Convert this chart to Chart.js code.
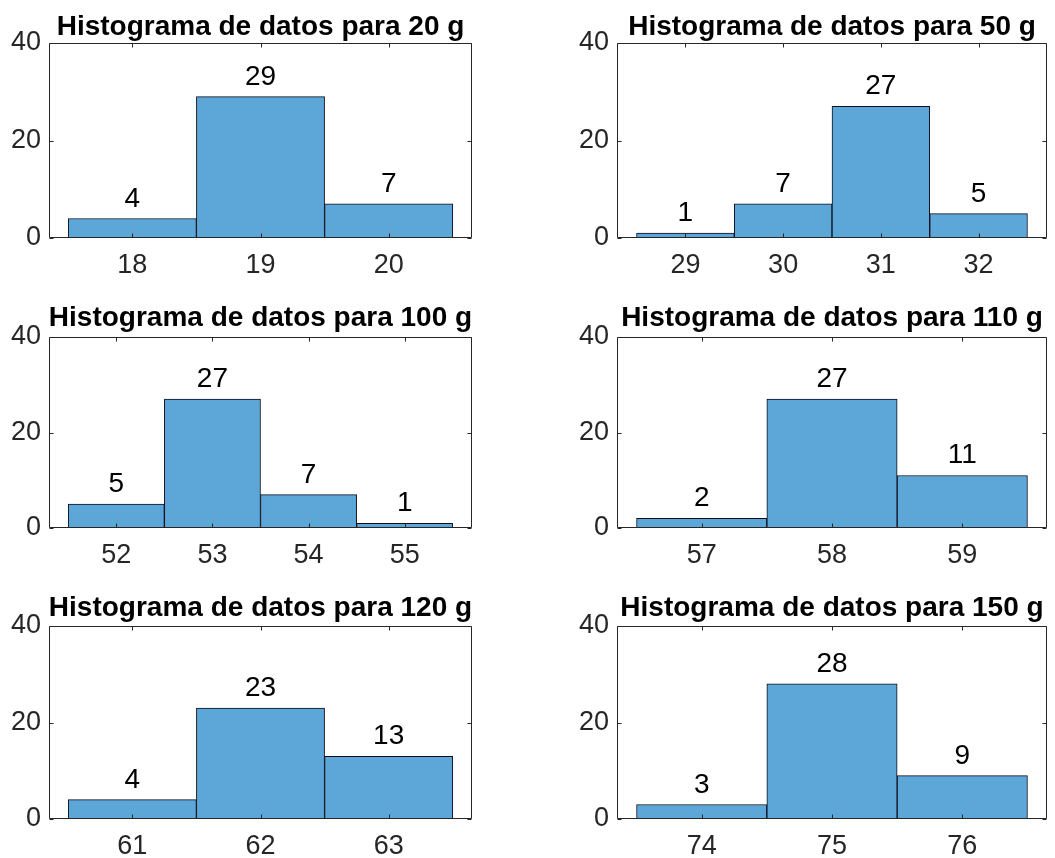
<!DOCTYPE html>
<html>
<head>
<meta charset="utf-8">
<script src="https://cdn.jsdelivr.net/npm/chart.js@4.4.1/dist/chart.umd.min.js"></script>
<style>
  html, body { margin: 0; padding: 0; background: #ffffff; }
  body { width: 1055px; height: 858px; position: relative; overflow: hidden; }
  canvas { position: absolute; }
</style>
</head>
<body>
<canvas id="c0"></canvas>
<canvas id="c1"></canvas>
<canvas id="c2"></canvas>
<canvas id="c3"></canvas>
<canvas id="c4"></canvas>
<canvas id="c5"></canvas>
<script>
// Masses (g) of each measurement set, used in the panel titles
const masses = [20, 50, 100, 110, 120, 150];

// Histogram bins (bin centres) and counts for every mass
const bins20 = [18, 19, 20];
const counts20 = [4, 29, 7];
const bins50 = [29, 30, 31, 32];
const counts50 = [1, 7, 27, 5];
const bins100 = [52, 53, 54, 55];
const counts100 = [5, 27, 7, 1];
const bins110 = [57, 58, 59];
const counts110 = [2, 27, 11];
const bins120 = [61, 62, 63];
const counts120 = [4, 23, 13];
const bins150 = [74, 75, 76];
const counts150 = [3, 28, 9];

// Shared y-axis ticks
const yTicks = [0, 20, 40];

const allBins = [bins20, bins50, bins100, bins110, bins120, bins150];
const allCounts = [counts20, counts50, counts100, counts110, counts120, counts150];

// Styling
const FONT = "'Liberation Sans', Arial, Helvetica, sans-serif";
const BAR_FILL = 'rgb(92,166,216)';
const BAR_EDGE = '#0d0d1a';
const AXIS_COLOR = '#262626';
const TICK_LEN = 4;

// Canvas placement and plot-box edges for the 3x2 grid
const colCanvas = [[0, 500], [520, 535]];
const rowCanvas = [[0, 285], [285, 290], [575, 283]];
const colBox = [[49, 472], [617, 1047]];
const rowBox = [[43, 238], [337, 528], [626, 819]];
const titleGap = [8, 11, 10];

const Y_W = 46;   // reserved width for y tick labels
const X_H = 44;   // reserved height for x tick labels

// Outer box with inward tick marks on all four sides
const boxPlugin = {
  id: 'box',
  afterDatasetsDraw(chart) {
    const { ctx, chartArea: a, scales: { x, y } } = chart;
    const l = Math.round(a.left) + 0.5, r = Math.round(a.right) - 0.5;
    const t = Math.round(a.top) + 0.5, b = Math.round(a.bottom) - 0.5;
    ctx.save();
    ctx.strokeStyle = AXIS_COLOR;
    ctx.lineWidth = 1;
    ctx.beginPath();
    ctx.rect(l, t, r - l, b - t);
    x.ticks.forEach(tk => {
      const px = Math.round(x.getPixelForValue(tk.value)) + 0.5;
      ctx.moveTo(px, b); ctx.lineTo(px, b - TICK_LEN);
      ctx.moveTo(px, t); ctx.lineTo(px, t + TICK_LEN);
    });
    y.ticks.forEach(tk => {
      const py = Math.round(y.getPixelForValue(tk.value)) + 0.5;
      ctx.moveTo(l, py); ctx.lineTo(l + TICK_LEN, py);
      ctx.moveTo(r, py); ctx.lineTo(r - TICK_LEN, py);
    });
    ctx.stroke();
    ctx.restore();
  }
};

// Count written above each bar
const countLabelPlugin = {
  id: 'countLabels',
  afterDatasetsDraw(chart) {
    const { ctx } = chart;
    const meta = chart.getDatasetMeta(0);
    const data = chart.data.datasets[0].data;
    ctx.save();
    ctx.font = '28px ' + FONT;
    ctx.fillStyle = '#000000';
    ctx.textAlign = 'center';
    ctx.textBaseline = 'alphabetic';
    meta.data.forEach((bar, k) => {
      ctx.fillText(String(data[k].y), bar.x, bar.y - 12);
    });
    ctx.restore();
  }
};

// Bold title centred over the plot box
const titlePlugin = {
  id: 'panelTitle',
  afterDraw(chart) {
    const { ctx, chartArea: a } = chart;
    ctx.save();
    ctx.font = 'bold 28px ' + FONT;
    ctx.fillStyle = '#000000';
    ctx.textAlign = 'center';
    ctx.textBaseline = 'alphabetic';
    ctx.fillText(chart.options.panelTitle, (a.left + a.right) / 2, a.top - chart.options.titleGap);
    ctx.restore();
  }
};

function makePanel(i) {
  const col = i % 2, row = Math.floor(i / 2);
  const [cx, cw] = colCanvas[col];
  const [cy, ch] = rowCanvas[row];
  const [L, R] = colBox[col];
  const [T, B] = rowBox[row];
  const bins = allBins[i];
  const counts = allCounts[i];
  const n = bins.length;
  const pad = 0.05 * n;

  const canvas = document.getElementById('c' + i);
  canvas.width = cw; canvas.height = ch;
  canvas.style.left = cx + 'px'; canvas.style.top = cy + 'px';
  canvas.style.width = cw + 'px'; canvas.style.height = ch + 'px';

  const tickFont = { family: FONT, size: 27 };

  new Chart(canvas, {
    type: 'bar',
    data: {
      datasets: [{
        data: bins.map((b, k) => ({ x: b, y: counts[k] })),
        backgroundColor: BAR_FILL,
        borderColor: BAR_EDGE,
        borderWidth: 1,
        borderSkipped: false,
        barPercentage: 1,
        categoryPercentage: 1
      }]
    },
    options: {
      panelTitle: 'Histograma de datos para ' + masses[i] + ' g',
      titleGap: titleGap[row],
      responsive: false,
      animation: false,
      devicePixelRatio: 1,
      layout: {
        padding: {
          left: L - cx - Y_W,
          right: cx + cw - R,
          top: T - cy,
          bottom: cy + ch - B - X_H
        }
      },
      plugins: {
        legend: { display: false },
        tooltip: { enabled: false },
        title: { display: false }
      },
      scales: {
        x: {
          type: 'linear',
          offset: false,
          min: bins[0] - 0.5 - pad,
          max: bins[n - 1] + 0.5 + pad,
          afterBuildTicks: s => { s.ticks = bins.map(v => ({ value: v })); },
          afterFit: s => { s.height = X_H; },
          grid: { display: false, drawTicks: false },
          border: { display: false },
          ticks: {
            font: tickFont, color: AXIS_COLOR, padding: 11,
            maxRotation: 0, autoSkip: false,
            callback: v => String(v)
          }
        },
        y: {
          min: 0,
          max: 40,
          afterBuildTicks: s => { s.ticks = yTicks.map(v => ({ value: v })); },
          afterFit: s => { s.width = Y_W; },
          grid: { display: false, drawTicks: false },
          border: { display: false },
          ticks: { font: tickFont, color: AXIS_COLOR, padding: 8, callback: v => String(v) }
        }
      }
    },
    plugins: [boxPlugin, countLabelPlugin, titlePlugin]
  });
}

for (let i = 0; i < 6; i++) makePanel(i);
</script>
</body>
</html>
